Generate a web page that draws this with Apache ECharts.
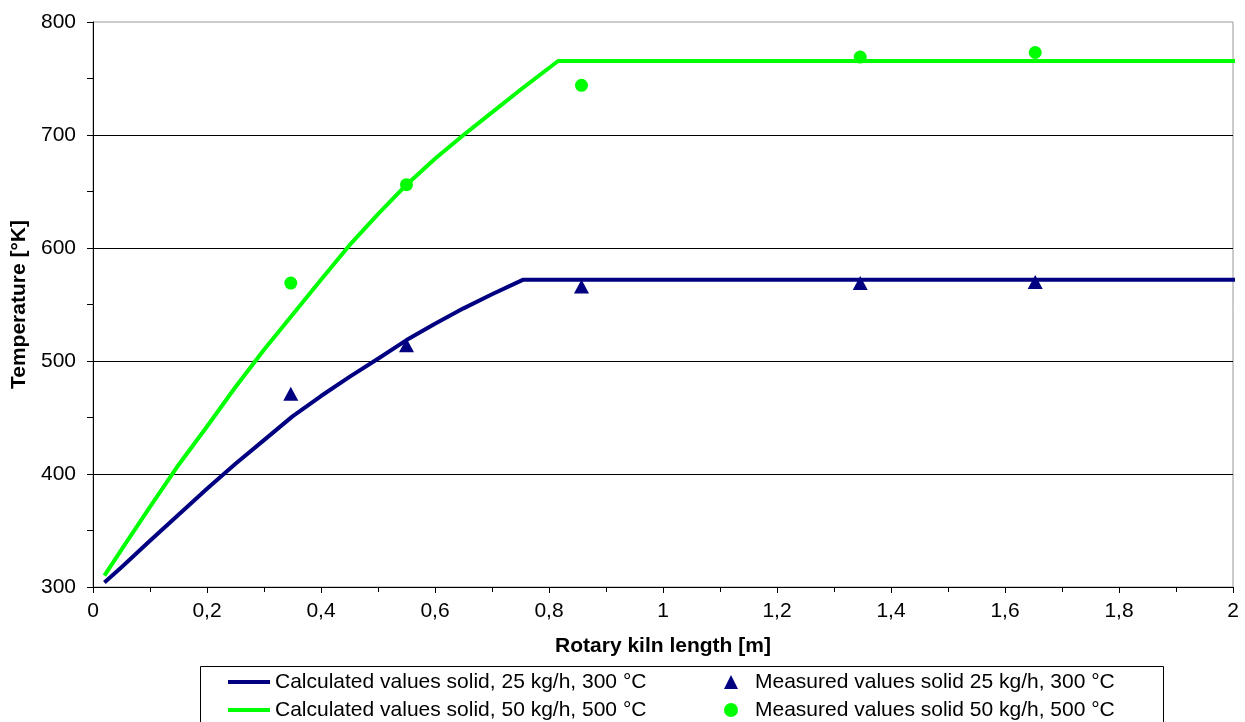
<!DOCTYPE html>
<html>
<head>
<meta charset="utf-8">
<script src="https://cdn.jsdelivr.net/npm/echarts@6/dist/echarts.min.js"></script>
<style>
html,body{margin:0;padding:0;background:#fff;}
#chart{width:1245px;height:722px;}
</style>
</head>
<body>
<div id="chart"></div>
<script>
// ---- data ----
const calc25X = [0.02, 0.05, 0.1, 0.15, 0.2, 0.25, 0.3, 0.35, 0.4, 0.45, 0.5, 0.55, 0.6, 0.65, 0.7, 0.755, 2.012];
const calc25Y = [304, 317.5, 341, 364, 387, 409, 430, 451, 469, 486, 502, 518.5, 533, 546.6, 559, 572, 572];
const calc50X = [0.02, 0.05, 0.1, 0.15, 0.2, 0.25, 0.3, 0.35, 0.4, 0.45, 0.5, 0.55, 0.6, 0.65, 0.7, 0.75, 0.816, 2.012];
const calc50Y = [310, 333, 371, 408, 442, 477, 510, 541, 572, 602.5, 630, 656, 679, 700, 720, 740, 765.5, 765.5];
const measX = [0.347, 0.55, 0.857, 1.346, 1.653];
const meas25Y = [471, 514, 566, 569, 570];
const meas50Y = [569, 656, 744, 769, 773];
const xTickLabels = ['0','0,2','0,4','0,6','0,8','1','1,2','1,4','1,6','1,8','2'];
const yTickLabels = ['300','400','500','600','700','800'];
const seriesNames = [
  'Calculated values solid, 25 kg/h, 300 °C',
  'Calculated values solid, 50 kg/h, 500 °C',
  'Measured values solid 25 kg/h, 300 °C',
  'Measured values solid 50 kg/h, 500 °C'
];
const xAxisName = 'Rotary kiln length [m]';
const yAxisName = 'Temperature [°K]';

const FONT = "'Liberation Sans', Arial, sans-serif";
const NAVY = '#000080';
const GREEN = '#00FF00';

function pairs(xs, ys){ return xs.map((x,i)=>[x, ys[i]]); }

const chart = echarts.init(document.getElementById('chart'), null, {renderer:'canvas'});
chart.setOption({
  animation: false,
  backgroundColor: '#fff',
  textStyle: {fontFamily: FONT},
  grid: {
    left: 93, right: 12, top: 22, bottom: 135,
    show: true, borderColor: '#999', borderWidth: 1,
    containLabel: false, outerBoundsMode: 'none'
  },
  xAxis: {
    type: 'value', min: 0, max: 2, interval: 0.2,
    name: xAxisName, nameLocation: 'middle', nameGap: 49,
    nameTextStyle: {fontFamily: FONT, fontSize: 21, fontWeight: 'bold', color: '#000'},
    axisLine: {show: true, onZero: false, lineStyle: {color: '#000', width: 1}},
    axisTick: {show: true, inside: false, length: 6, lineStyle: {color: '#000'}},
    minorTick: {show: true, splitNumber: 2, length: 5, lineStyle: {color: '#000'}},
    axisLabel: {
      fontFamily: FONT, fontSize: 21, color: '#000', margin: 14,
      formatter: v => xTickLabels[Math.round(v / 0.2)]
    },
    splitLine: {show: false}
  },
  yAxis: {
    type: 'value', min: 300, max: 800, interval: 100,
    name: yAxisName, nameLocation: 'middle', nameGap: 62,
    nameTextStyle: {fontFamily: FONT, fontSize: 21, fontWeight: 'bold', color: '#000'},
    axisLine: {show: true, onZero: false, lineStyle: {color: '#000', width: 1}},
    axisTick: {show: true, inside: false, length: 6, lineStyle: {color: '#000'}},
    minorTick: {show: true, splitNumber: 2, length: 6, lineStyle: {color: '#000'}},
    axisLabel: {
      fontFamily: FONT, fontSize: 21, color: '#000', margin: 17,
      formatter: v => yTickLabels[Math.round((v - 300) / 100)]
    },
    splitLine: {show: true, showMinLine: false, showMaxLine: false, lineStyle: {color: '#000', width: 1}}
  },
  legend: [
    {
      orient: 'vertical', left: 228, top: 670, padding: 0, itemGap: 4,
      itemWidth: 42, itemHeight: 4,
      textStyle: {fontFamily: FONT, fontSize: 21, color: '#000', lineHeight: 24},
      data: [
        {name: seriesNames[0], icon: 'rect'},
        {name: seriesNames[1], icon: 'rect'}
      ]
    },
    {
      orient: 'vertical', left: 724, top: 670, padding: 0, itemGap: 4,
      itemWidth: 14, itemHeight: 14,
      textStyle: {fontFamily: FONT, fontSize: 21, color: '#000', lineHeight: 24, padding: [0,0,0,12]},
      data: [
        {name: seriesNames[2], icon: 'triangle'},
        {name: seriesNames[3], icon: 'circle'}
      ]
    }
  ],
  graphic: [
    {
      type: 'rect', left: 198, top: 664, z: -1,
      shape: {width: 963, height: 80},
      style: {fill: 'none', stroke: '#000', lineWidth: 1}
    }
  ],
  series: [
    {
      name: seriesNames[0], type: 'line', data: pairs(calc25X, calc25Y),
      showSymbol: false, symbol: 'none', smooth: false, clip: false,
      lineStyle: {color: NAVY, width: 4, join: 'round'}, itemStyle: {color: NAVY}
    },
    {
      name: seriesNames[1], type: 'line', data: pairs(calc50X, calc50Y),
      showSymbol: false, symbol: 'none', smooth: false, clip: false,
      lineStyle: {color: GREEN, width: 4, join: 'round'}, itemStyle: {color: GREEN}
    },
    {
      name: seriesNames[2], type: 'scatter', data: pairs(measX, meas25Y),
      symbol: 'triangle', symbolSize: [15, 14], itemStyle: {color: NAVY, opacity: 1}
    },
    {
      name: seriesNames[3], type: 'scatter', data: pairs(measX, meas50Y),
      symbol: 'circle', symbolSize: 13, itemStyle: {color: GREEN, opacity: 1}
    }
  ]
});
</script>
</body>
</html>
